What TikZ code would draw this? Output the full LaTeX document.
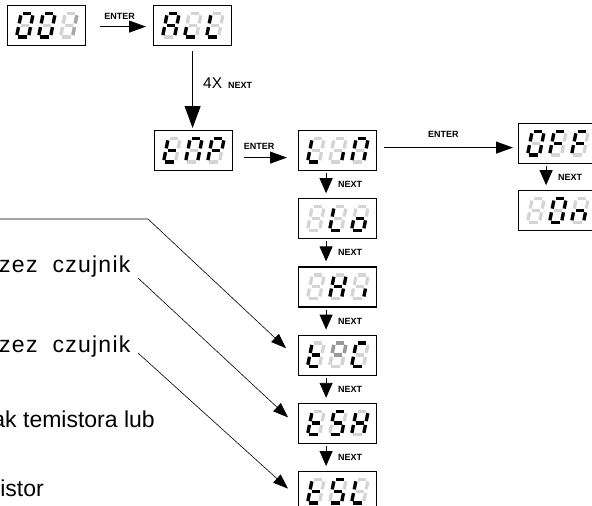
\documentclass[tikz,border=0pt]{standalone}
\usepackage{fontspec}
\setmainfont{Liberation Sans}
\usetikzlibrary{arrows.meta}
\usetikzlibrary{positioning}

% segment paths of one digit (local units, y up)
\def\SGa{(1.9,23.5) -- (10.1,23.5)}
\def\SGb{(12,21.6) -- (12,13.65)}
\def\SGc{(12,9.85) -- (12,1.9)}
\def\SGd{(1.9,0) -- (10.1,0)}
\def\SGe{(0,1.9) -- (0,9.85)}
\def\SGf{(0,13.65) -- (0,21.6)}
\def\SGg{(1.9,11.75) -- (10.1,11.75)}
\def\SGx{(0,0)}

\tikzset{
  dispbox/.style={draw, rectangle, line width=1.2pt, minimum width=78pt, minimum height=40pt, inner sep=0pt},
  seg/.style={line width=3.3pt},
  lbl/.style={font=\fontsize{9}{9}\selectfont\bfseries, inner sep=0pt},
  txt/.style={font=\fontsize{23}{27}\selectfont, inner sep=0pt},
  enter/.style={-{Triangle[length=17pt,width=12pt]}, line width=0.9pt},
  bigarrow/.style={-{Triangle[length=22pt,width=16pt]}, line width=0.9pt},
  nextarrow/.style={-{Triangle[length=15pt,width=13pt]}, line width=0.9pt, shorten <=2pt, shorten >=5pt},
  pointer/.style={-{Triangle[length=15pt,width=11pt]}, line width=0.6pt}
}

\newcommand{\segdigit}[3][black]{%
  \begin{scope}[shift={#2}, x=1pt, y=1pt, xslant=0.2]
    \foreach \s in {a,b,c,d,e,f,g} \draw[seg, black!17] \csname SG\s\endcsname;
    \foreach \s in {#3} \draw[seg, #1] \csname SG\s\endcsname;
  \end{scope}}

\newcommand{\disp}[5]{%
  \node[dispbox, #2] (#1) {};
  \segdigit{([xshift=9.5pt,yshift=-32pt]#1.north west)}{#3}
  \segdigit{([xshift=31.5pt,yshift=-32pt]#1.north west)}{#4}
  \segdigit{([xshift=53.5pt,yshift=-32pt]#1.north west)}{#5}}

\begin{document}
\begin{tikzpicture}[x=1pt, y=-1pt]
        \useasboundingbox (0,0) rectangle (592,506);

        % displays
        \disp{d001}{anchor=north west, at={(7,5)}}{a,b,c,d,e,f}{a,b,c,d,e,f}{x}
        \segdigit[black!35]{([xshift=53.5pt,yshift=-32pt]d001.north west)}{b,c}
        \disp{all}{anchor=north west, at={(153,5)}}{a,b,c,e,f,g}{d,e}{d,e,f}
        \disp{tmp}{anchor=north west, at={(154,130)}}{d,e,f,g}{a,b,c,e,f}{a,b,e,f,g}
        \disp{lin}{anchor=north west, at={(298,130)}}{d,e,f}{c}{a,b,c,e,f}
        \disp{lo}{below=27pt of lin}{x}{d,e,f}{c,d,e,g}
        \disp{hi}{below=27pt of lo}{x}{b,c,e,f,g}{c}
        \disp{tpc}{below=27pt of hi}{d,e,f,g}{x}{a,d,e,f}
        \segdigit[black!40]{([xshift=31.5pt,yshift=-32pt]tpc.north west)}{a,b,f,g}
        \disp{tsh}{below=27pt of tpc}{d,e,f,g}{a,c,d,f,g}{b,c,e,f,g}
        \disp{tsl}{below=27pt of tsh}{d,e,f,g}{a,c,d,f,g}{d,e,f}
        \disp{off}{anchor=north west, at={(518,123)}}{a,b,c,d,e,f}{a,e,f,g}{a,e,f,g}
        \disp{on}{below=26pt of off}{x}{a,b,c,d,e,f}{c,e,g}

        % ENTER / NEXT steps
        \path [enter] ([yshift=-1pt]d001.east) edge[shorten <=14pt, shorten >=7pt] node[lbl, above=7pt, name=e1] {ENTER} ([yshift=-1pt]all.west);
        \path [bigarrow] (all.south) edge[shorten <=5pt, shorten >=2pt] (all.south |- tmp.north);
        \node[anchor=base west, inner sep=0pt] (cnt) at (203,88) {\fontsize{15.5}{16}\selectfont 4X\hspace{6pt}{\fontsize{9}{9}\selectfont\bfseries NEXT}};
        \path [enter] ([yshift=-7pt]tmp.east) edge[shorten <=11pt, shorten >=11pt] node[lbl, above=8pt, pos=0.4, name=e2] {ENTER} ([yshift=-7pt]lin.west);
        \path [enter] ([yshift=3pt]lin.east) edge[shorten <=7pt, shorten >=5pt] node[lbl, above=10pt, pos=0.47, name=e3] {ENTER} ([yshift=3pt]lin.east -| off.west);
        \foreach \a/\b in {lin/lo, lo/hi, hi/tpc, tpc/tsh, tsh/tsl, off/on}
          \path [nextarrow] ([xshift=-11.5pt]\a.south) edge node[lbl, anchor=west, xshift=11.5pt, name=n\a] {NEXT} ([xshift=-11.5pt]\b.north);

        % notes on the left
        \node[txt, anchor=base west] (t1) at (-1,272) {\addfontfeature{LetterSpace=5.5}zez\hspace{15pt}czujnik};
        \node[txt, anchor=base west] (t2) at (-1,352) {\addfontfeature{LetterSpace=5.5}zez\hspace{15pt}czujnik};
        \node[txt, anchor=base east] (t3) at (155,427) {ak temistora lub};
        \node[txt, anchor=base east] (t4) at (44,496) {istor};

        \coordinate (p1) at (0,219);
        \coordinate (p1b) at (148,219);
        \coordinate (p2) at (138,278);
        \coordinate (p3) at (138,353);
        \draw [pointer] (p1) -- (p1b) -- ([xshift=-12pt,yshift=7pt]tpc.west);
        \draw [pointer] (p2) -- ([xshift=-10pt,yshift=6pt]tsh.west);
        \draw [pointer] (p3) -- ([xshift=-10pt,yshift=3pt]tsl.west);
\end{tikzpicture}
\end{document}
